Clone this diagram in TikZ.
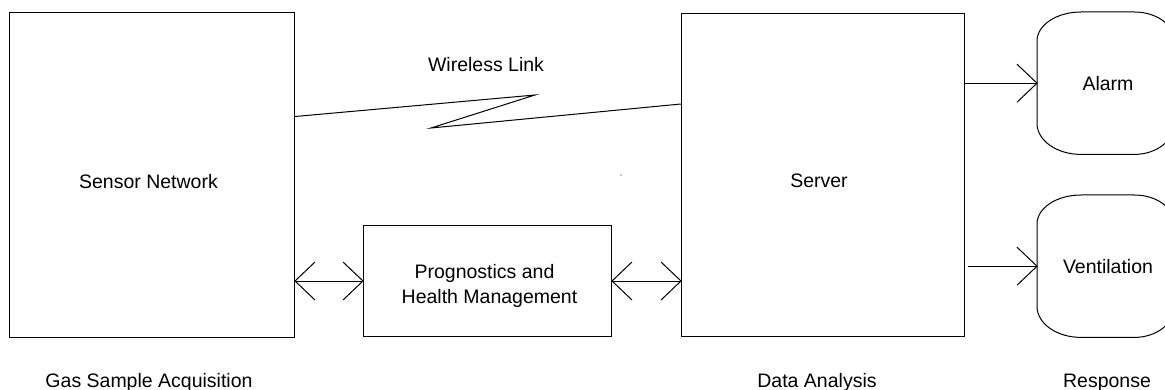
\documentclass[tikz,border=0pt]{standalone}
\usepackage{fontspec}
\setmainfont{Liberation Sans}
\usetikzlibrary{calc}
\newcommand\headR[1]{\draw[conn] ($(#1)+(-20,-19)$) -- (#1) -- ($(#1)+(-20,19)$);}
\newcommand\headL[1]{\draw[conn] ($(#1)+(20,-19)$) -- (#1) -- ($(#1)+(20,19)$);}
\newcommand\termdraw[1]{\draw[conn] ([yshift=-29pt]#1.north west)
  arc[start angle=180,end angle=90,x radius=44pt,y radius=29pt]
  -- ([xshift=-40pt]#1.north east)
  arc[start angle=90,end angle=0,x radius=40pt,y radius=29pt]
  -- ([yshift=31pt]#1.south east)
  arc[start angle=0,end angle=-90,x radius=40pt,y radius=31pt]
  -- ([xshift=44pt]#1.south west)
  arc[start angle=270,end angle=180,x radius=44pt,y radius=31pt]
  -- cycle;}
\begin{document}
\begin{tikzpicture}[x=1pt,y=-1pt,
  box/.style={draw,line width=1pt,inner sep=0pt,anchor=north west},
  term/.style={inner sep=0pt,anchor=north west,minimum width=137pt,minimum height=142pt},
  txt/.style={anchor=base,inner sep=0pt,font=\fontsize{19.5}{23}\selectfont},
  conn/.style={line width=1pt}]
\useasboundingbox (0,0) rectangle (1165,390);
\fill[white] (0,0) rectangle (1165,390);
% boxes
\node[box,minimum width=285pt,minimum height=325pt] (sn) at (9,12) {};
\node[box,minimum width=283pt,minimum height=323pt] (sv) at (681,13) {};
\node[box,minimum width=248pt,minimum height=111pt] (phm) at (363,225) {};
\node[term] (al) at (1037,12) {};
\node[term] (ve) at (1037,195) {};
\termdraw{al}
\termdraw{ve}
% wireless link
\coordinate (z1) at (535,95);
\coordinate (z2) at (431,128);
\draw[conn] ([yshift=58.5pt]sn.east) -- (z1) -- (z2) -- ([yshift=71pt]sv.west);
% double arrows
\coordinate (p1) at (sn.east |- phm.west);
\draw[conn] (p1) -- (phm.west);
\headL{p1}
\headR{phm.west}
\coordinate (p2) at (sv.west |- phm.east);
\draw[conn] (phm.east) -- (p2);
\headL{phm.east}
\headR{p2}
% single arrows
\coordinate (p3) at (sv.east |- al.west);
\draw[conn] (p3) -- (al.west);
\headR{al.west}
\coordinate (p4) at (sv.east |- ve.west);
\draw[conn] ([xshift=3pt]p4) -- (ve.west);
\headR{ve.west}
% stray dot
\fill (621,175) circle[radius=0.7pt];
% texts
\node[txt] (twl) at (486,72) {Wireless Link};
\node[txt] (tsn) at (148.5,189) {Sensor Network};
\node[txt] (tsv) at (819,188) {Server};
\node[txt] (tp1) at (484.5,278) {Prognostics and};
\node[txt] (tp2) at (489.5,303) {Health Management};
\node[txt] (tal) at (1108,91) {Alarm};
\node[txt] (tve) at (1108,273) {Ventilation};
\node[txt] (tgs) at (149,387) {Gas Sample Acquisition};
\node[txt] (tda) at (817,387) {Data Analysis};
\node[txt] (tre) at (1107,387) {Response};
\end{tikzpicture}
\end{document}
